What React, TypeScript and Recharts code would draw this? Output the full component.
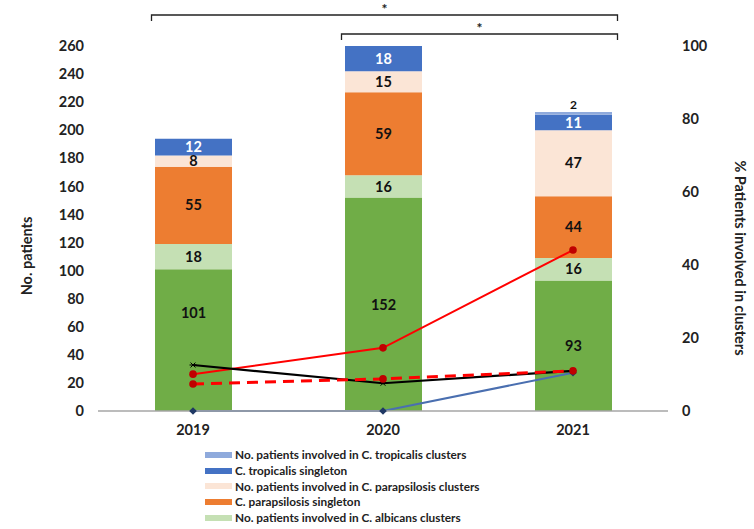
import React from "react";
import { ComposedChart, Bar, Line, XAxis, YAxis, LabelList } from "recharts";

const years = ["2019", "2020", "2021"];
const albicansSingleton = [101, 152, 93];
const albicansClusters = [18, 16, 16];
const parapSingleton = [55, 59, 44];
const parapClusters = [8, 15, 47];
const tropSingleton = [12, 18, 11];
const tropClusters = [0, 0, 2];

// % lines on the right axis
const pctRed = [10.1, 17.3, 44.1];
const pctRedDashed = [7.4, 8.8, 11.0];
const pctBlack = [12.6, 7.6, 11.0];
const pctBlue = [0, 0, 10.5];

const leftTicks = [0, 20, 40, 60, 80, 100, 120, 140, 160, 180, 200, 220, 240, 260];
const rightTicks = [0, 20, 40, 60, 80, 100];

const leftTitle = "No. patients";
const rightTitle = "% Patients involved in clusters";

const legendItems = [
  { label: "No. patients involved in C. tropicalis clusters", color: "#8FAADC" },
  { label: "C. tropicalis singleton", color: "#4472C4" },
  { label: "No. patients involved in C. parapsilosis clusters", color: "#FBE5D6" },
  { label: "C. parapsilosis singleton", color: "#ED7D31" },
  { label: "No. patients involved in C. albicans clusters", color: "#C5E0B4" },
];

// significance brackets: from / to category index, stacking level
const brackets = [
  { from: 0, to: 2, level: 0 },
  { from: 1, to: 2, level: 1 },
];

const data = years.map((y, i) => ({
  year: y,
  albS: albicansSingleton[i],
  albC: albicansClusters[i],
  parS: parapSingleton[i],
  parC: parapClusters[i],
  troS: tropSingleton[i],
  troC: tropClusters[i],
  red: pctRed[i],
  redDash: pctRedDashed[i],
  black: pctBlack[i],
  blue: pctBlue[i],
}));

const FONT = "Lato, 'Open Sans', sans-serif";
const W = 754;
const H = 445;
const LEFT = 98;
const RIGHT = 86;
const TOP = 46;
const BAR = 77;

const labelStyle = { fontSize: 14.5, fontWeight: 700, fontFamily: FONT };
const tickStyle = { fontSize: 14.5, fontWeight: 700, fill: "#222", fontFamily: FONT };

function CircleDot(props: any) {
  const { cx, cy, index } = props;
  if (cx == null || cy == null) return <g key={index} />;
  return <circle key={index} cx={cx} cy={cy} r={3.8} fill="#C00000" />;
}

function StarDot(props: any) {
  const { cx, cy, index } = props;
  if (cx == null || cy == null) return <g key={index} />;
  const s = 3.5;
  return (
    <g key={index} stroke="#000" strokeWidth={1}>
      <line x1={cx - s} y1={cy} x2={cx + s} y2={cy} />
      <line x1={cx - s * 0.7} y1={cy - s * 0.7} x2={cx + s * 0.7} y2={cy + s * 0.7} />
      <line x1={cx - s * 0.7} y1={cy + s * 0.7} x2={cx + s * 0.7} y2={cy - s * 0.7} />
    </g>
  );
}

function DiamondDot(props: any) {
  const { cx, cy, index } = props;
  if (cx == null || cy == null) return <g key={index} />;
  const s = 3.8;
  return (
    <polygon
      key={index}
      points={`${cx},${cy - s} ${cx + s},${cy} ${cx},${cy + s} ${cx - s},${cy}`}
      fill="#1F3864"
    />
  );
}

function AlbLabel(props: any) {
  const { x, y, width, height, value, index } = props;
  const shift = index === 0 ? -28 : 0;
  return (
    <text
      x={x + width / 2}
      y={y + height / 2 + shift}
      textAnchor="middle"
      dominantBaseline="central"
      fill="#111"
      style={labelStyle}
    >
      {value}
    </text>
  );
}

function TopLabel(props: any) {
  const { x, y, width, value } = props;
  if (!value) return null;
  return (
    <text x={x + width / 2} y={y - 3} textAnchor="middle" fill="#111" style={{ ...labelStyle, fontSize: 12 }}>
      {value}
    </text>
  );
}

export default function App() {
  const band = (W - LEFT - RIGHT) / years.length;
  const center = (i: number) => LEFT + band * (i + 0.5);
  const titleStyle = { fontSize: 14.5, fontWeight: 700, fill: "#222", fontFamily: FONT };
  return (
    <div style={{ position: "absolute", left: 0, top: 0, width: W, height: 529, background: "#fff", fontFamily: FONT }}>
      <ComposedChart width={W} height={H} data={data} margin={{ top: TOP, right: 0, left: 0, bottom: 0 }}>
        <XAxis
          dataKey="year"
          height={34}
          tickLine={false}
          tickSize={0}
          tickMargin={14}
          axisLine={{ stroke: "#A6A6A6", strokeWidth: 1.5 }}
          tick={tickStyle}
        />
        <YAxis
          yAxisId="left"
          width={LEFT}
          domain={[0, 260]}
          ticks={leftTicks}
          interval={0}
          axisLine={false}
          tickLine={false}
          tickSize={0}
          tickMargin={14}
          tick={tickStyle}
        />
        <YAxis
          yAxisId="right"
          orientation="right"
          width={RIGHT}
          domain={[0, 100]}
          ticks={rightTicks}
          interval={0}
          axisLine={false}
          tickLine={false}
          tickSize={0}
          tickMargin={14}
          tick={tickStyle}
        />
        <Bar yAxisId="left" dataKey="albS" stackId="a" fill="#70AD47" barSize={BAR} isAnimationActive={false}>
          <LabelList dataKey="albS" content={<AlbLabel />} />
        </Bar>
        <Bar yAxisId="left" dataKey="albC" stackId="a" fill="#C5E0B4" barSize={BAR} isAnimationActive={false}>
          <LabelList dataKey="albC" position="center" fill="#111" style={labelStyle} />
        </Bar>
        <Bar yAxisId="left" dataKey="parS" stackId="a" fill="#ED7D31" barSize={BAR} isAnimationActive={false}>
          <LabelList dataKey="parS" position="center" fill="#111" style={labelStyle} />
        </Bar>
        <Bar yAxisId="left" dataKey="parC" stackId="a" fill="#FBE5D6" barSize={BAR} isAnimationActive={false}>
          <LabelList dataKey="parC" position="center" fill="#111" style={labelStyle} />
        </Bar>
        <Bar yAxisId="left" dataKey="troS" stackId="a" fill="#4472C4" barSize={BAR} isAnimationActive={false}>
          <LabelList dataKey="troS" position="center" fill="#fff" style={labelStyle} />
        </Bar>
        <Bar yAxisId="left" dataKey="troC" stackId="a" fill="#8FAADC" barSize={BAR} isAnimationActive={false}>
          <LabelList dataKey="troC" content={<TopLabel />} />
        </Bar>
        <Line
          yAxisId="right"
          type="linear"
          dataKey="blue"
          stroke="#4A6FB0"
          strokeWidth={2}
          dot={(p: any) => <DiamondDot key={p.index} {...p} />}
          isAnimationActive={false}
        />
        <Line
          yAxisId="right"
          type="linear"
          dataKey="red"
          stroke="#FF0000"
          strokeWidth={2}
          dot={(p: any) => <CircleDot key={p.index} {...p} />}
          isAnimationActive={false}
        />
        <Line
          yAxisId="right"
          type="linear"
          dataKey="black"
          stroke="#000"
          strokeWidth={2.2}
          dot={(p: any) => <StarDot key={p.index} {...p} />}
          isAnimationActive={false}
        />
        <Line
          yAxisId="right"
          type="linear"
          dataKey="redDash"
          stroke="#FF0000"
          strokeWidth={3}
          strokeDasharray="11 7"
          dot={(p: any) => <CircleDot key={p.index} {...p} />}
          isAnimationActive={false}
        />
      </ComposedChart>

      <svg width={W} height={H} style={{ position: "absolute", left: 0, top: 0, pointerEvents: "none" }}>
        {brackets.map((b, i) => {
          const x1 = center(b.from) - BAR / 2 - 3;
          const x2 = center(b.to) + BAR / 2 + 6;
          const y = 15 + b.level * 19;
          return (
            <g key={i}>
              <path d={`M${x1},${y + 6} L${x1},${y} L${x2},${y} L${x2},${y + 6}`} fill="none" stroke="#222" strokeWidth={1.3} />
              <text x={(x1 + x2) / 2} y={y - 1} textAnchor="middle" fontSize={14} fontWeight={700} fontFamily={FONT} fill="#222">
                *
              </text>
            </g>
          );
        })}
        <text x={32} y={256} transform="rotate(-90 32 256)" textAnchor="middle" style={titleStyle}>
          {leftTitle}
        </text>
        <text x={735} y={258} transform="rotate(90 735 258)" textAnchor="middle" style={titleStyle}>
          {rightTitle}
        </text>
      </svg>

      <div style={{ position: "absolute", left: 205, top: 447 }}>
        {legendItems.map((it) => (
          <div key={it.label} style={{ display: "flex", alignItems: "center", height: 15.7 }}>
            <span style={{ display: "inline-block", width: 27, height: 6, background: it.color, marginRight: 3 }} />
            <span style={{ fontSize: 11.8, fontWeight: 700, color: "#222", fontFamily: FONT, whiteSpace: "nowrap" }}>
              {it.label}
            </span>
          </div>
        ))}
      </div>
    </div>
  );
}
